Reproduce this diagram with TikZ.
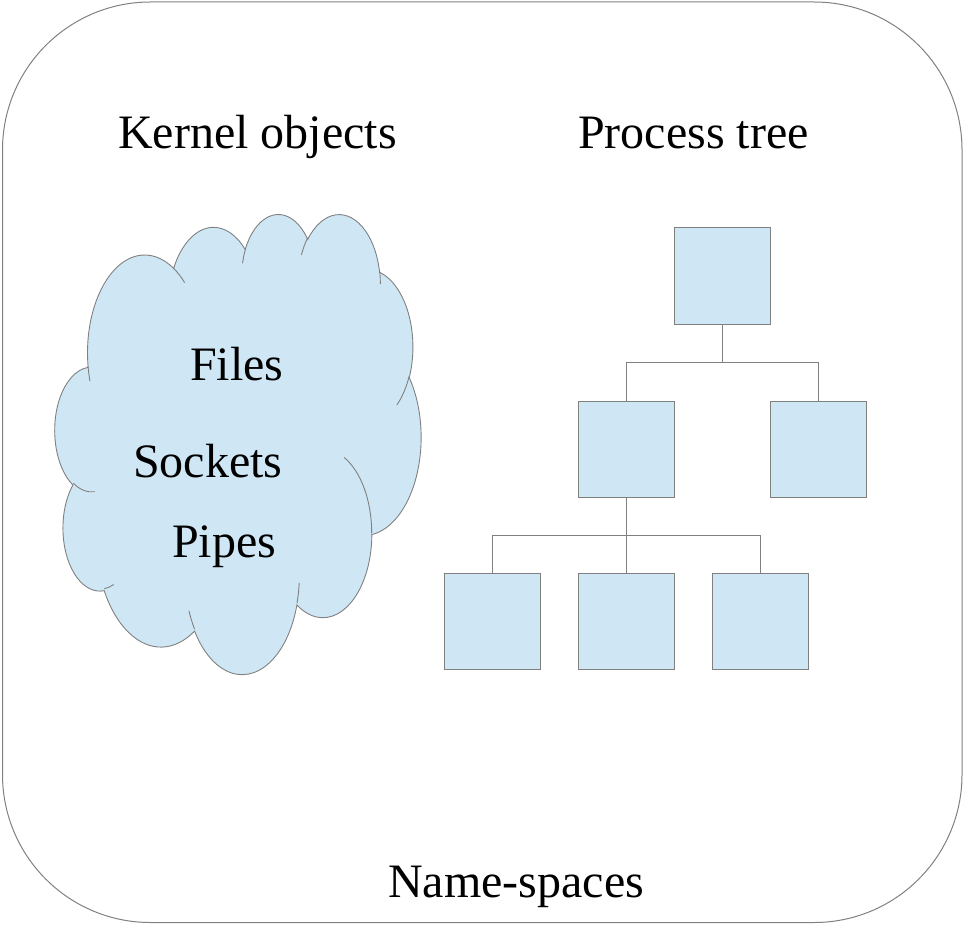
\documentclass[tikz,border=0pt]{standalone}
\usepackage{fontspec}
\setmainfont{Liberation Serif}
\definecolor{cloudfill}{RGB}{207,231,245}
\definecolor{edgegray}{RGB}{128,128,128}
\tikzset{
  lbl/.style={font=\fontsize{48}{58}\selectfont, inner sep=0pt, anchor=base west},
  procbox/.style={rectangle, draw=edgegray, fill=cloudfill, line width=1pt, minimum width=96pt, minimum height=96pt, inner sep=0pt},
  treeline/.style={draw=edgegray, line width=1pt},
  cloudline/.style={draw=edgegray, line width=0.9pt},
}
\begin{document}
\begin{tikzpicture}[x=1pt,y=1pt,yscale=-1,
  declare function={pa(\ta,\rx,\ry)=\ta+asin(sin(atan2(\rx*sin(\ta),\ry*cos(\ta))-\ta));}]
\useasboundingbox (0,0) rectangle (963,925);
% outer frame
\draw[edgegray, line width=1pt, rounded corners=148pt] (2.5,2) rectangle (962,922.5);

% cloud
\begin{scope}[shift={(55,213)}, xscale=0.084722, yscale=0.106481]
\path[cloudline, fill=cloudfill] (390,1437)
  arc[start angle={pa(-190.487,675.3,919)}, end angle={pa(-190.487+123.781,675.3,919)}, x radius=675.3, y radius=919]
  arc[start angle={pa(-144.102,533.3,726.7)}, end angle={pa(-144.102+89.945,533.3,726.7)}, x radius=533.3, y radius=726.7]
  arc[start angle={pa(-145.808,436.5,594.5)}, end angle={pa(-145.808+99.723,436.5,594.5)}, x radius=436.5, y radius=594.5]
  arc[start angle={pa(-130.986,485.7,659.5)}, end angle={pa(-130.986+117.242,485.7,659.5)}, x radius=485.7, y radius=659.5]
  arc[start angle={pa(-78.709,533.3,727.3)}, end angle={pa(-78.709+109.027,533.3,727.3)}, x radius=533.3, y radius=727.3]
  arc[start angle={pa(-46.267,677.5,922)}, end angle={pa(-46.267+130.269,677.5,922)}, x radius=677.5, y radius=922]
  arc[start angle={pa(0.625,578.5,786.7)}, end angle={pa(0.625+114.033,578.5,786.7)}, x radius=578.5, y radius=786.7]
  arc[start angle={pa(22.452,675.2,921.5)}, end angle={pa(22.452+115.173,675.2,921.5)}, x radius=675.2, y radius=921.5]
  arc[start angle={pa(66.243,772,1054.3)}, end angle={pa(66.243+75.711,772,1054.3)}, x radius=772, y radius=1054.3]
  arc[start angle={pa(-274.942,436,591.8)}, end angle={pa(-274.942+146.736,436,591.8)}, x radius=436, y radius=591.8]
  arc[start angle={pa(-246.829,434.5,594.5)}, end angle={pa(-246.829+152.519,434.5,594.5)}, x radius=434.5, y radius=594.5]
  -- cycle;
\path[cloudline]
  (469.3,2617.7) arc[start angle={pa(86.742,434.5,594.5)}, end angle={pa(86.742+26.430,434.5,594.5)}, x radius=434.5, y radius=594.5]
  (692.8,3489.9) arc[start angle={pa(73.611,436,591.8)}, end angle={pa(73.611+11.447,436,591.8)}, x radius=436, y radius=591.8]
  (1647.8,3909) arc[start angle={pa(137.624,675.2,921.5)}, end angle={pa(137.624+14.081,675.2,921.5)}, x radius=675.2, y radius=921.5]
  (2882.7,3475.1) arc[start angle={pa(6.453,675.2,921.5)}, end angle={pa(6.453+15.998,675.2,921.5)}, x radius=675.2, y radius=921.5]
  (3412.9,2295.4) arc[start angle={pa(-70.292,578.5,786.7)}, end angle={pa(-70.292+70.917,578.5,786.7)}, x radius=578.5, y radius=786.7]
  (4179.8,1535.4) arc[start angle={pa(30.318,533.3,727.3)}, end angle={pa(30.318+27.752,533.3,727.3)}, x radius=533.3, y radius=727.3]
  (3832.4,542.6) arc[start angle={pa(-13.744,485.7,659.5)}, end angle={pa(-13.744+14.859,485.7,659.5)}, x radius=485.7, y radius=659.5]
  (2907.8,395.2) arc[start angle={pa(-149.181,485.7,659.5)}, end angle={pa(-149.181+18.195,485.7,659.5)}, x radius=485.7, y radius=659.5]
  (2214.1,472) arc[start angle={pa(-163.494,436.5,594.5)}, end angle={pa(-163.494+17.686,436.5,594.5)}, x radius=436.5, y radius=594.5]
  (1400,519.2) arc[start angle={pa(-66.707,675.3,919)}, end angle={pa(-66.707+12.319,675.3,919)}, x radius=675.3, y radius=919]
  (412.7,1578.9) arc[start angle={pa(157.654,675.3,919)}, end angle={pa(157.654+11.858,675.3,919)}, x radius=675.3, y radius=919];
\end{scope}

% labels
\node[lbl] (kernel) at (118,149) {Kernel objects};
\node[lbl] (ptree) at (578,149) {Process tree};
\node[lbl] (files) at (190,380) {Files};
\node[lbl] (sockets) at (133,477) {Sockets};
\node[lbl] (pipes) at (172,557) {Pipes};
\node[lbl] (ns) at (388,897) {Name-spaces};

% process tree
\node[procbox] (root) at (722,276) {};
\node[procbox] (ml) at (626,449) {};
\node[procbox] (mr) at (818,449) {};
\node[procbox] (b1) at (492,621) {};
\node[procbox] (b2) at (626,621) {};
\node[procbox] (b3) at (760,621) {};
\coordinate (j1) at (722,362);
\coordinate (j2) at (626,535);
\draw[treeline] (root.south) -- (j1);
\draw[treeline] (j1) -| (ml.north);
\draw[treeline] (j1) -| (mr.north);
\draw[treeline] (ml.south) -- (j2);
\draw[treeline] (j2) -| (b1.north);
\draw[treeline] (j2) -- (b2.north);
\draw[treeline] (j2) -| (b3.north);
\end{tikzpicture}
\end{document}
